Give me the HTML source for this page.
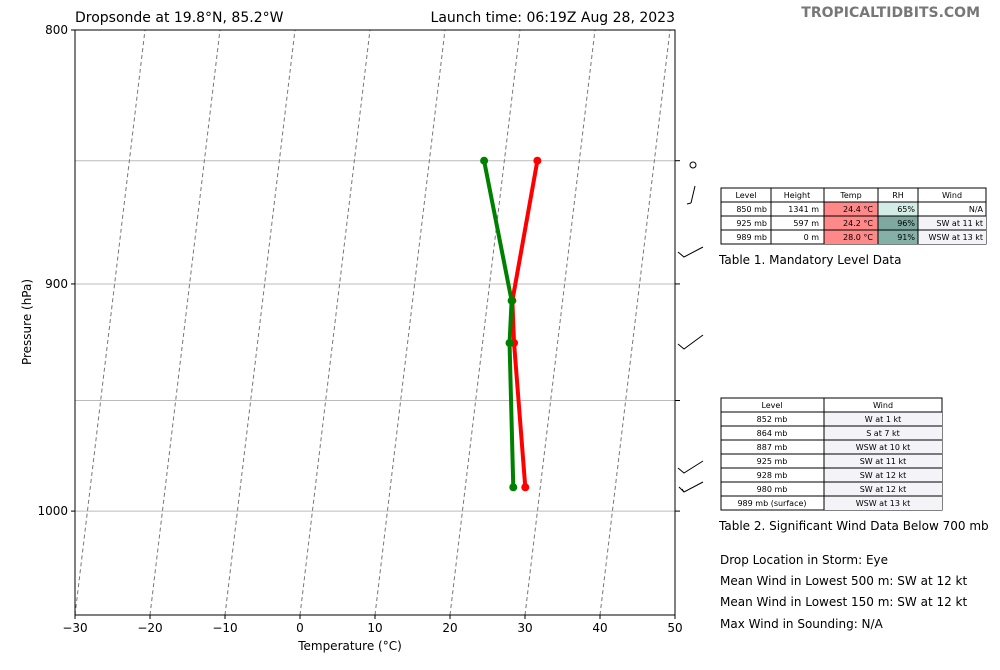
<!DOCTYPE html>
<html><head><meta charset="utf-8"><style>
body{margin:0;background:#fff;font-family:"DejaVu Sans","Liberation Sans",sans-serif}
svg text{font-family:"DejaVu Sans","Liberation Sans",sans-serif}
</style></head><body>
<svg id="c" width="1000" height="666" viewBox="0 0 1000 666" xmlns="http://www.w3.org/2000/svg">
<text x="75" y="22" font-size="14">Dropsonde at 19.8°N, 85.2°W</text>
<text x="675" y="22" font-size="14" text-anchor="end">Launch time: 06:19Z Aug 28, 2023</text>
<text x="980" y="17" font-size="14" font-weight="bold" fill="#777" text-anchor="end">TROPICALTIDBITS.COM</text>
<defs><clipPath id="pc"><rect x="75" y="30" width="600" height="585"/></clipPath></defs>
<g id="grid" clip-path="url(#pc)"></g>
<g id="marks" clip-path="url(#pc)"></g>
<rect x="75" y="30" width="600" height="585" fill="none" stroke="#000" stroke-width="1"/>
<g id="axes"></g>
<text x="350" y="650" font-size="12" text-anchor="middle">Temperature (°C)</text>
<text x="31" y="322" font-size="12" text-anchor="middle" transform="rotate(-90 31 322)">Pressure (hPa)</text>
<g id="barbs" stroke="#000" stroke-width="1" fill="none">
<circle cx="693" cy="165" r="3"/>
<path d="M695 186 L691 203 M691 203 L687 204"/>
<path d="M703 247 L684 257 L678 252"/>
<path d="M703 335 L684 349 L678 344"/>
<path d="M703 461 L684 473 L678 468"/>
<path d="M703 482 L684 492 L679 487 M684 492 L682 489"/>
</g>
<g font-size="8">
<rect x="721" y="188" width="265" height="56" fill="#fff" stroke="#000"/>
<rect x="824" y="202" width="54" height="42" fill="#f88"/>
<rect x="878" y="202" width="40" height="14" fill="#d3ede6"/>
<rect x="878" y="216" width="40" height="28" fill="#7fa8a0"/>
<rect x="878" y="230" width="40" height="14" fill="#84b0a6"/>
<rect x="918" y="216" width="68" height="28" fill="#f4f4f8"/>
<path d="M721 202H986M721 216H986M721 230H986M771 188V244M824 188V244M878 188V244M918 188V244" stroke="#000" fill="none"/>
<g text-anchor="middle"><text x="746" y="198">Level</text><text x="797" y="198">Height</text><text x="851" y="198">Temp</text><text x="898" y="198">RH</text><text x="952" y="198">Wind</text></g>
<g text-anchor="end">
<text x="767" y="212">850 mb</text><text x="819" y="212">1341 m</text><text x="873" y="212">24.4 °C</text><text x="915" y="212">65%</text><text x="983" y="212">N/A</text>
<text x="767" y="226">925 mb</text><text x="819" y="226">597 m</text><text x="873" y="226">24.2 °C</text><text x="915" y="226">96%</text><text x="983" y="226">SW at 11 kt</text>
<text x="767" y="240">989 mb</text><text x="819" y="240">0 m</text><text x="873" y="240">28.0 °C</text><text x="915" y="240">91%</text><text x="983" y="240">WSW at 13 kt</text>
</g></g>
<text x="719" y="264" font-size="12">Table 1. Mandatory Level Data</text>
<g font-size="8" text-anchor="middle">
<rect x="721" y="398" width="221" height="112" fill="#fff" stroke="#000"/>
<rect x="824" y="412" width="118" height="98" fill="#f4f4f8"/>
<path d="M721 412H942M721 426H942M721 440H942M721 454H942M721 468H942M721 482H942M721 496H942M824 398V510" stroke="#000" fill="none"/>
<text x="772" y="408">Level</text><text x="883" y="408">Wind</text>
<text x="772" y="422">852 mb</text><text x="883" y="422">W at 1 kt</text>
<text x="772" y="436">864 mb</text><text x="883" y="436">S at 7 kt</text>
<text x="772" y="450">887 mb</text><text x="883" y="450">WSW at 10 kt</text>
<text x="772" y="464">925 mb</text><text x="883" y="464">SW at 11 kt</text>
<text x="772" y="478">928 mb</text><text x="883" y="478">SW at 12 kt</text>
<text x="772" y="492">980 mb</text><text x="883" y="492">SW at 12 kt</text>
<text x="772" y="506">989 mb (surface)</text><text x="883" y="506">WSW at 13 kt</text>
</g>
<text x="719" y="530" font-size="12">Table 2. Significant Wind Data Below 700 mb</text>
<g font-size="12">
<text x="720" y="564">Drop Location in Storm: Eye</text>
<text x="720" y="585">Mean Wind in Lowest 500 m:  SW at 12 kt</text>
<text x="720" y="606">Mean Wind in Lowest 150 m:  SW at 12 kt</text>
<text x="720" y="628">Max Wind in Sounding:  N/A</text>
</g>
</svg>
<script>
const pressures=[850,907,925,989];
const temps=[24.4,23.3,24.2,28.0];
const dewpoints=[17.3,23.2,23.6,26.4];
const xTicks=[-30,-20,-10,0,10,20,30,40,50];
const yTicks=[800,900,1000];
const hLines=[850,900,950,1000];
const isotherms=[-30,-20,-10,0,10,20,30,40,50,60];
const NS='http://www.w3.org/2000/svg';
const X0=75,Y0=30,YB=615,SK=70/585;
function yP(p){return Y0+2156*Math.log(p/800);}
function xT(t,y){return X0+(t+30)*7.5+(YB-y)*SK;}
function mk(tag,attrs,parent){const e=document.createElementNS(NS,tag);for(const k in attrs)e.setAttribute(k,attrs[k]);document.getElementById(parent).appendChild(e);return e;}
hLines.forEach(p=>{const y=yP(p);
const l=mk('line',{x1:75,x2:675,y1:y,y2:y,stroke:'#bbb','stroke-width':1},'grid');


const t=mk('line',{x1:675,x2:680,y1:y,y2:y,stroke:'#000'},'axes');

});
isotherms.forEach(T=>{const l=mk('line',{x1:xT(T,YB),y1:YB,x2:xT(T,Y0),y2:Y0,stroke:'#777','stroke-width':1,'stroke-dasharray':'4,3'},'grid');

});
xTicks.forEach(T=>{const x=X0+(T+30)*7.5;
mk('line',{x1:x,x2:x,y1:615,y2:619,stroke:'#000'},'axes');
const t=mk('text',{x:x,y:632,'font-size':12,'text-anchor':'middle'},'axes');t.textContent=(T<0?'\u2212'+(-T):T);

});
yTicks.forEach(p=>{const y=yP(p);
mk('line',{x1:71,x2:75,y1:y,y2:y,stroke:'#000'},'axes');
const t=mk('text',{x:68,y:y+4,'font-size':12,'text-anchor':'end'},'axes');t.textContent=p;

});
function series(vals,color,name){
const pts=pressures.map((p,i)=>{const y=yP(p);return [xT(vals[i],y),y];});
const pl=mk('polyline',{points:pts.map(q=>q.join(',')).join(' '),fill:'none',stroke:color,'stroke-width':4,'stroke-linejoin':'round'},'marks');


pts.forEach(q=>{const c=mk('circle',{cx:q[0],cy:q[1],r:4,fill:color},'marks');

});}
series(temps,'#ff0000','temperature');
series(dewpoints,'#008000','dewpoint');
</script>
</body></html>
